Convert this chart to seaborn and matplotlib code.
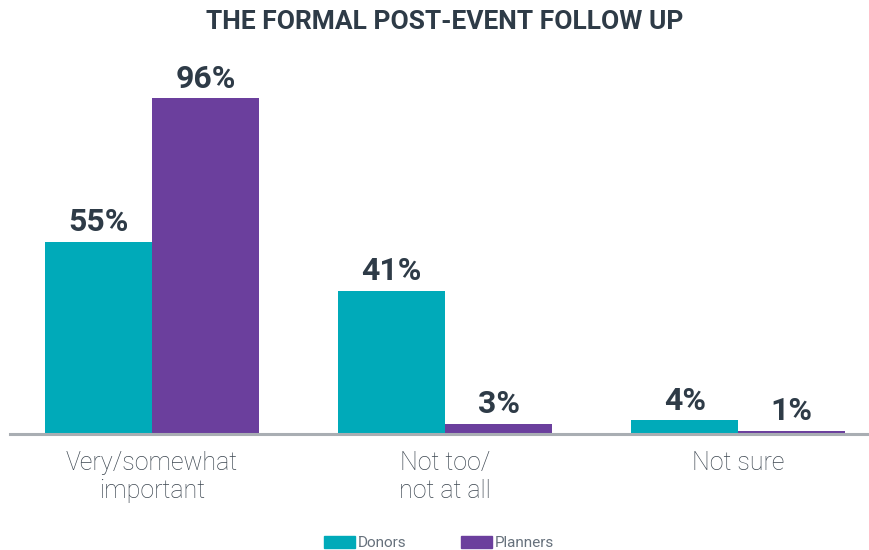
import matplotlib
matplotlib.use("Agg")
import matplotlib.pyplot as plt
import matplotlib.patches as mpatches
import seaborn as sns
import pandas as pd

categories = ["Very/somewhat\nimportant", "Not too/\nnot at all", "Not sure"]
donors = [55, 41, 4]
planners = [96, 3, 1]
series = ["Donors", "Planners"]
colors = ["#00AAB9", "#6B3F9D"]

df = pd.DataFrame({
    "Category": categories * 2,
    "Value": donors + planners,
    "Group": [series[0]] * 3 + [series[1]] * 3,
})

sns.set_theme(style="white")
plt.rcParams["font.family"] = ["Roboto", "DejaVu Sans"]

fig = plt.figure(figsize=(8.7, 5.5), dpi=100)
ax = fig.add_axes([10 / 870, (550 - 434) / 550, 860 / 870, 374 / 550])

sns.barplot(data=df, x="Category", y="Value", hue="Group", palette=colors,
            width=0.73, gap=0, saturation=1, legend=False, ax=ax,
            linewidth=0, errorbar=None)

ax.set_xlim(-0.485, 2.45)
ax.set_ylim(0, 106.9)

for container in ax.containers:
    ax.bar_label(container, labels=[f"{v:.0f}%" for v in container.datavalues],
                 padding=3, fontsize=23, fontweight="bold", color="#2E3B47")

for s in ["top", "right", "left"]:
    ax.spines[s].set_visible(False)
ax.spines["bottom"].set_color("#A9AEB3")
ax.spines["bottom"].set_linewidth(2.2)
ax.set_yticks([])
ax.set_xlabel("")
ax.set_ylabel("")
ax.tick_params(axis="x", length=0, pad=12)
for lbl in ax.get_xticklabels():
    lbl.set_fontsize(18)
    lbl.set_fontweight("light")
    lbl.set_color("#3C4650")
    lbl.set_linespacing(1.25)

fig.text(445 / 870, 1 - 22 / 550, "THE FORMAL POST-EVENT FOLLOW UP",
         ha="center", va="center", fontsize=19, fontweight="bold",
         color="#2E3B47")

handles = [mpatches.Patch(color=c, label=s) for c, s in zip(colors, series)]
fig.legend(handles=handles, loc="center", bbox_to_anchor=(439 / 870, 1 - 543 / 550),
           ncol=2, frameon=False, handlelength=2.0, handleheight=0.9,
           handletextpad=0.2, columnspacing=3.6, labelcolor="#66717C",
           prop={"size": 11})

fig.savefig("out.png", dpi=100, facecolor="white")
